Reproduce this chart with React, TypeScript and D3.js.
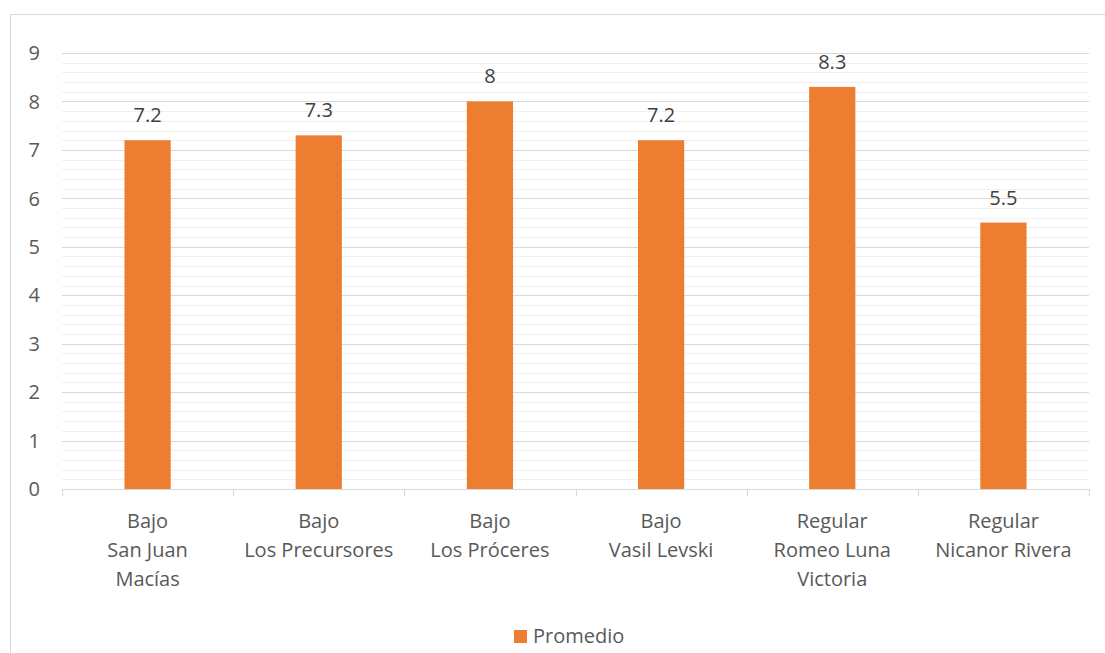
import React from "react";
import * as d3 from "d3";

const categories: string[][] = [
  ["Bajo", "San Juan", "Macías"],
  ["Bajo", "Los Precursores"],
  ["Bajo", "Los Próceres"],
  ["Bajo", "Vasil Levski"],
  ["Regular", "Romeo Luna", "Victoria"],
  ["Regular", "Nicanor Rivera"],
];
const values: number[] = [7.2, 7.3, 8, 7.2, 8.3, 5.5];
const yTicks: number[] = [0, 1, 2, 3, 4, 5, 6, 7, 8, 9];
const minorTicks: number[] = d3.range(0, 9.001, 0.2);
const seriesName = "Promedio";

const W = 1105;
const H = 653;
const left = 62;
const right = 1089;
const top = 53;
const bottom = 489;
const FONT = "'Open Sans', 'Noto Sans', sans-serif";
const TXT = "#595959";
const BAR = "#ED7D31";
const FS = 20;

export default function App() {
  const x = d3
    .scaleBand<number>()
    .domain(d3.range(categories.length))
    .range([left, right])
    .paddingInner(0.73)
    .paddingOuter(0.365);
  const xc = d3.scaleBand<number>().domain(d3.range(categories.length)).range([left, right]);
  const y = d3.scaleLinear().domain([0, 9]).range([bottom, top]);

  return (
    <svg
      width={W}
      height={H}
      style={{ position: "absolute", left: 0, top: 0, background: "#fff" }}
      fontFamily={FONT}
    >
      <rect x={10.5} y={14.5} width={1200} height={800} fill="#fff" stroke="#d9d9d9" />
      {minorTicks.map((t, i) => (
        <line
          key={"m" + i}
          x1={left}
          x2={right}
          y1={Math.round(y(t)) + 0.5}
          y2={Math.round(y(t)) + 0.5}
          stroke="#f0f0f0"
          strokeWidth={1.2}
        />
      ))}
      {yTicks.map((t) => (
        <g key={"y" + t}>
          {t > 0 && (
            <line
              x1={left}
              x2={right}
              y1={Math.round(y(t)) + 0.5}
              y2={Math.round(y(t)) + 0.5}
              stroke="#d9d9d9"
              strokeWidth={1.2}
            />
          )}
          <text x={40} y={y(t)} dy="0.36em" textAnchor="end" fontSize={FS} fill={TXT}>
            {t}
          </text>
        </g>
      ))}
      {values.map((v, i) => (
        <g key={"b" + i}>
          <rect x={x(i)} y={y(v)} width={x.bandwidth()} height={y(0) - y(v)} fill={BAR} />
          <text
            x={(x(i) as number) + x.bandwidth() / 2}
            y={y(v) - 18}
            textAnchor="middle"
            fontSize={FS}
            fill="#404040"
          >
            {v}
          </text>
        </g>
      ))}
      <line x1={left} x2={right} y1={bottom + 0.5} y2={bottom + 0.5} stroke="#d9d9d9" strokeWidth={1.2} />
      {d3.range(categories.length + 1).map((i) => {
        const xx = Math.round(i < categories.length ? (xc(i) as number) : right) + 0.5;
        return <line key={"t" + i} x1={xx} x2={xx} y1={bottom} y2={bottom + 7} stroke="#d9d9d9" strokeWidth={1.2} />;
      })}
      {categories.map((lines, i) => (
        <text
          key={"c" + i}
          x={(xc(i) as number) + xc.bandwidth() / 2}
          textAnchor="middle"
          fontSize={FS}
          fill={TXT}
        >
          {lines.map((l, j) => (
            <tspan key={j} x={(xc(i) as number) + xc.bandwidth() / 2} y={528 + j * 28.8}>
              {l}
            </tspan>
          ))}
        </text>
      ))}
      <rect x={514} y={630} width={13} height={13} fill={BAR} />
      <text x={533} y={643} fontSize={FS} fill={TXT}>
        {seriesName}
      </text>
    </svg>
  );
}
